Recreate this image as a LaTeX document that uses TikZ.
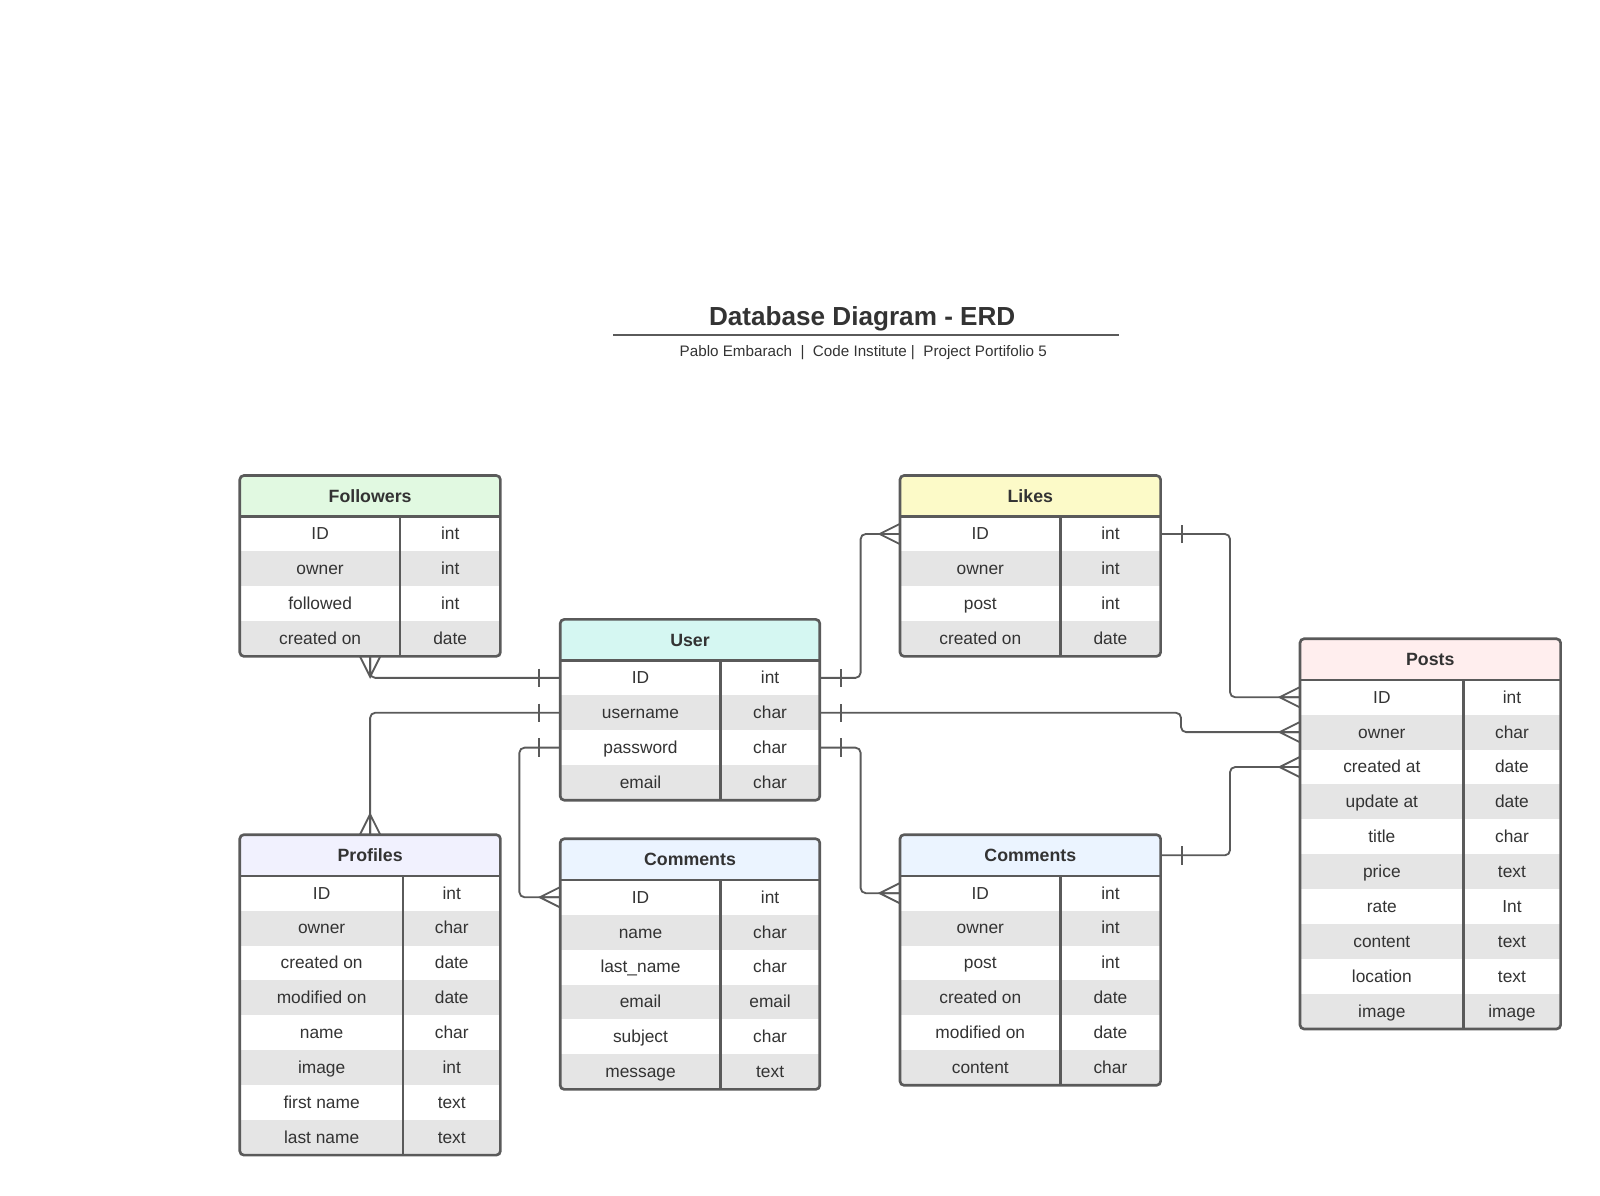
\documentclass[tikz,border=0pt]{standalone}
\usepackage{fontspec}
\setmainfont{Liberation Sans}
\usepackage{tikz}
\usetikzlibrary{positioning}
\usepackage{xcolor}
\definecolor{linecolor}{RGB}{90,90,90}
\definecolor{textcolor}{RGB}{51,51,51}
\definecolor{rowgray}{RGB}{229,229,229}
\definecolor{followerscolor}{RGB}{225,249,225}
\definecolor{usercolor}{RGB}{213,247,242}
\definecolor{likescolor}{RGB}{252,250,200}
\definecolor{postscolor}{RGB}{255,238,238}
\definecolor{profilescolor}{RGB}{241,241,254}
\definecolor{commentscolor}{RGB}{235,244,255}
\newcommand{\tblfont}{\fontsize{17}{20}\selectfont}
\newcommand{\tblhead}{\fontsize{17.4}{20}\selectfont\bfseries}
\newcommand{\erdtitle}{\fontsize{25.6}{30}\selectfont\bfseries}
\newcommand{\erdsub}{\fontsize{14.9}{18}\selectfont}

\begin{document}
\begin{tikzpicture}[x=1pt, y=-1pt]
  \tikzset{
    header/.style={
      minimum width=#1pt,
      minimum height=40pt,
      inner sep=0pt,
      anchor=north west,
      font=\tblhead,
      text=textcolor
    },
    cell/.style={
      minimum width=#1pt,
      minimum height=34.2pt,
      inner sep=0pt,
      text height=14pt,
      text depth=2.4pt,
      anchor=north west,
      font=\tblfont,
      text=textcolor
    },
    rowa/.style={fill=white},
    rowb/.style={fill=rowgray},
    border/.style={
      draw=linecolor,
      line width=2.6pt,
      rounded corners=4pt
    },
    divider/.style={
      draw=linecolor,
      line width=2.6pt
    },
    rel/.style={
      draw=linecolor,
      line width=1.8pt,
      rounded corners=5pt
    },
    crow/.pic={
      \draw[linecolor, line width=1.8pt] (0,-10) -- (-20,0) -- (0,10) (0,0) -- (-20,0);
    },
    onebar/.pic={
      \draw[linecolor, line width=1.8pt] (-21,-9) -- (-21,9);
    }
  }
  \useasboundingbox (0,0) rectangle (1568,1172);

  % Title
  \node[font=\erdtitle, text=textcolor] (title) at (845,312) {Database Diagram - ERD};
  \draw[linecolor, line width=1.8pt] (601,328.5) -- (1097,328.5);
  \node[font=\erdsub, text=textcolor] (subtitle) at (846,345.5)
    {Pablo Embarach~~|~~Code Institute~|~~Project Portifolio 5};

  % Followers table
  \node[header=255, fill=followerscolor] at (235,466) (followers) {Followers};
  \node[cell=157, rowa] at (235,506) (fol1) {ID};
  \node[cell=98, rowa] at (392,506) (fol1t) {int};
  \node[cell=157, rowb] at (235,540.2) (fol2) {owner};
  \node[cell=98, rowb] at (392,540.2) (fol2t) {int};
  \node[cell=157, rowa] at (235,574.4) (fol3) {followed};
  \node[cell=98, rowa] at (392,574.4) (fol3t) {int};
  \node[cell=157, rowb] at (235,608.6) (fol4) {created on};
  \node[cell=98, rowb] at (392,608.6) (fol4t) {date};
  \draw[border] (followers.north west) rectangle (fol4t.south east);
  \draw[divider] (followers.south west) -- (followers.south east);
  \draw[divider] (fol1t.north west) -- (fol4t.south west);

  % User table
  \node[header=254, fill=usercolor] at (549,607) (user) {User};
  \node[cell=157, rowa] at (549,647) (usr1) {ID};
  \node[cell=97, rowa] at (706,647) (usr1t) {int};
  \node[cell=157, rowb] at (549,681.2) (usr2) {username};
  \node[cell=97, rowb] at (706,681.2) (usr2t) {char};
  \node[cell=157, rowa] at (549,715.4) (usr3) {password};
  \node[cell=97, rowa] at (706,715.4) (usr3t) {char};
  \node[cell=157, rowb] at (549,749.6) (usr4) {email};
  \node[cell=97, rowb] at (706,749.6) (usr4t) {char};
  \draw[border] (user.north west) rectangle (usr4t.south east);
  \draw[divider] (user.south west) -- (user.south east);
  \draw[divider] (usr1t.north west) -- (usr4t.south west);

  % Likes table
  \node[header=255, fill=likescolor] at (882,466) (likes) {Likes};
  \node[cell=157, rowa] at (882,506) (lik1) {ID};
  \node[cell=98, rowa] at (1039,506) (lik1t) {int};
  \node[cell=157, rowb] at (882,540.2) (lik2) {owner};
  \node[cell=98, rowb] at (1039,540.2) (lik2t) {int};
  \node[cell=157, rowa] at (882,574.4) (lik3) {post};
  \node[cell=98, rowa] at (1039,574.4) (lik3t) {int};
  \node[cell=157, rowb] at (882,608.6) (lik4) {created on};
  \node[cell=98, rowb] at (1039,608.6) (lik4t) {date};
  \draw[border] (likes.north west) rectangle (lik4t.south east);
  \draw[divider] (likes.south west) -- (likes.south east);
  \draw[divider] (lik1t.north west) -- (lik4t.south west);

  % Posts table
  \node[header=255, fill=postscolor] at (1274,626) (posts) {Posts};
  \node[cell=160, rowa] at (1274,666) (pst1) {ID};
  \node[cell=95, rowa] at (1434,666) (pst1t) {int};
  \node[cell=160, rowb] at (1274,700.2) (pst2) {owner};
  \node[cell=95, rowb] at (1434,700.2) (pst2t) {char};
  \node[cell=160, rowa] at (1274,734.4) (pst3) {created at};
  \node[cell=95, rowa] at (1434,734.4) (pst3t) {date};
  \node[cell=160, rowb] at (1274,768.6) (pst4) {update at};
  \node[cell=95, rowb] at (1434,768.6) (pst4t) {date};
  \node[cell=160, rowa] at (1274,802.8) (pst5) {title};
  \node[cell=95, rowa] at (1434,802.8) (pst5t) {char};
  \node[cell=160, rowb] at (1274,837) (pst6) {price};
  \node[cell=95, rowb] at (1434,837) (pst6t) {text};
  \node[cell=160, rowa] at (1274,871.2) (pst7) {rate};
  \node[cell=95, rowa] at (1434,871.2) (pst7t) {Int};
  \node[cell=160, rowb] at (1274,905.4) (pst8) {content};
  \node[cell=95, rowb] at (1434,905.4) (pst8t) {text};
  \node[cell=160, rowa] at (1274,939.6) (pst9) {location};
  \node[cell=95, rowa] at (1434,939.6) (pst9t) {text};
  \node[cell=160, rowb] at (1274,973.8) (pst10) {image};
  \node[cell=95, rowb] at (1434,973.8) (pst10t) {image};
  \draw[border] (posts.north west) rectangle (pst10t.south east);
  \draw[divider] (posts.south west) -- (posts.south east);
  \draw[divider] (pst1t.north west) -- (pst10t.south west);

  % Profiles table
  \node[header=255, fill=profilescolor] at (235,818) (profiles) {Profiles};
  \node[cell=160, rowa] at (235,858) (pro1) {ID};
  \node[cell=95, rowa] at (395,858) (pro1t) {int};
  \node[cell=160, rowb] at (235,892.2) (pro2) {owner};
  \node[cell=95, rowb] at (395,892.2) (pro2t) {char};
  \node[cell=160, rowa] at (235,926.4) (pro3) {created on};
  \node[cell=95, rowa] at (395,926.4) (pro3t) {date};
  \node[cell=160, rowb] at (235,960.6) (pro4) {modified on};
  \node[cell=95, rowb] at (395,960.6) (pro4t) {date};
  \node[cell=160, rowa] at (235,994.8) (pro5) {name};
  \node[cell=95, rowa] at (395,994.8) (pro5t) {char};
  \node[cell=160, rowb] at (235,1029) (pro6) {image};
  \node[cell=95, rowb] at (395,1029) (pro6t) {int};
  \node[cell=160, rowa] at (235,1063.2) (pro7) {first name};
  \node[cell=95, rowa] at (395,1063.2) (pro7t) {text};
  \node[cell=160, rowb] at (235,1097.4) (pro8) {last name};
  \node[cell=95, rowb] at (395,1097.4) (pro8t) {text};
  \draw[border] (profiles.north west) rectangle (pro8t.south east);
  \draw[divider] (profiles.south west) -- (profiles.south east);
  \draw[divider] (pro1t.north west) -- (pro8t.south west);

  % Comments table (user side)
  \node[header=254, fill=commentscolor] at (549,822) (comments) {Comments};
  \node[cell=157, rowa] at (549,862) (cma1) {ID};
  \node[cell=97, rowa] at (706,862) (cma1t) {int};
  \node[cell=157, rowb] at (549,896.2) (cma2) {name};
  \node[cell=97, rowb] at (706,896.2) (cma2t) {char};
  \node[cell=157, rowa] at (549,930.4) (cma3) {last\_name};
  \node[cell=97, rowa] at (706,930.4) (cma3t) {char};
  \node[cell=157, rowb] at (549,964.6) (cma4) {email};
  \node[cell=97, rowb] at (706,964.6) (cma4t) {email};
  \node[cell=157, rowa] at (549,998.8) (cma5) {subject};
  \node[cell=97, rowa] at (706,998.8) (cma5t) {char};
  \node[cell=157, rowb] at (549,1033) (cma6) {message};
  \node[cell=97, rowb] at (706,1033) (cma6t) {text};
  \draw[border] (comments.north west) rectangle (cma6t.south east);
  \draw[divider] (comments.south west) -- (comments.south east);
  \draw[divider] (cma1t.north west) -- (cma6t.south west);

  % Comments table (post side)
  \node[header=255, fill=commentscolor] at (882,818) (postcomments) {Comments};
  \node[cell=157, rowa] at (882,858) (cmb1) {ID};
  \node[cell=98, rowa] at (1039,858) (cmb1t) {int};
  \node[cell=157, rowb] at (882,892.2) (cmb2) {owner};
  \node[cell=98, rowb] at (1039,892.2) (cmb2t) {int};
  \node[cell=157, rowa] at (882,926.4) (cmb3) {post};
  \node[cell=98, rowa] at (1039,926.4) (cmb3t) {int};
  \node[cell=157, rowb] at (882,960.6) (cmb4) {created on};
  \node[cell=98, rowb] at (1039,960.6) (cmb4t) {date};
  \node[cell=157, rowa] at (882,994.8) (cmb5) {modified on};
  \node[cell=98, rowa] at (1039,994.8) (cmb5t) {date};
  \node[cell=157, rowb] at (882,1029) (cmb6) {content};
  \node[cell=98, rowb] at (1039,1029) (cmb6t) {char};
  \draw[border] (postcomments.north west) rectangle (cmb6t.south east);
  \draw[divider] (postcomments.south west) -- (postcomments.south east);
  \draw[divider] (cmb1t.north west) -- (cmb6t.south west);

  % Relations
  \draw[rel] (usr1.west) -| (followers |- fol4.south);
  \draw[rel] (usr2.west) -| (profiles.north);
  \draw[rel] (usr3.west) -- ++(-40,0) |- (cma1.west);
  \draw[rel] (usr1t.east) -- ++(40,0) |- (lik1.west);
  \draw[rel] (usr2t.east) -- ++(354,0) |- (pst2.west);
  \draw[rel] (usr3t.east) -- ++(40,0) |- (cmb1.west);
  \draw[rel] (lik1t.east) -- ++(68,0) |- (pst1.west);
  \draw[rel] (postcomments.east) -- ++(68,0) |- (pst3.west);

  % Cardinality marks
  \pic[rotate=90] at (followers |- fol4.south) {crow};
  \pic[rotate=-90] at (profiles.north) {crow};
  \pic at (cma1.west) {crow};
  \pic at (lik1.west) {crow};
  \pic at (cmb1.west) {crow};
  \pic at (pst1.west) {crow};
  \pic at (pst2.west) {crow};
  \pic at (pst3.west) {crow};
  \pic at (usr1.west) {onebar};
  \pic at (usr2.west) {onebar};
  \pic at (usr3.west) {onebar};
  \pic[rotate=180] at (usr1t.east) {onebar};
  \pic[rotate=180] at (usr2t.east) {onebar};
  \pic[rotate=180] at (usr3t.east) {onebar};
  \pic[rotate=180] at (lik1t.east) {onebar};
  \pic[rotate=180] at (postcomments.east) {onebar};
\end{tikzpicture}
\end{document}
